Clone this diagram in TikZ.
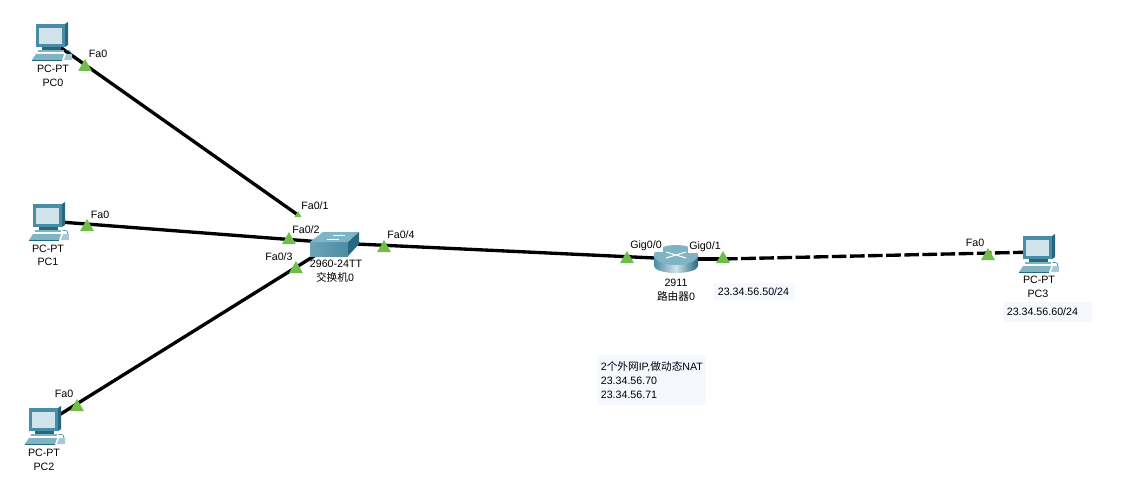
\documentclass[tikz,border=0pt]{standalone}
\usepackage{fontspec}
\setmainfont{Liberation Sans}
\newfontfamily\cjk{Noto Sans CJK SC}
\usepackage{xcolor}
\usetikzlibrary{shapes.geometric, backgrounds}
\definecolor{portgreen}{RGB}{112,190,72}
\definecolor{tealdark}{RGB}{38,104,128}
\definecolor{tealmid}{RGB}{74,140,165}
\definecolor{teallight}{RGB}{126,180,196}
\definecolor{screenblue}{RGB}{208,226,234}
\definecolor{noteblue}{RGB}{246,248,255}
\tikzset{
    pcicon/.pic={
        \fill[tealmid] (-14,-18) -- (15,-18) -- (15,5) -- (-14,5) -- cycle;
        \fill[tealdark] (15,-18) -- (18,-20) -- (18,3) -- (15,5) -- cycle;
        \fill[screenblue] (-11,-14) rectangle (12,2);
        \fill[tealdark] (-8,5) rectangle (11,8);
        \fill[teallight] (-12,8) rectangle (14,10);
        \fill[teallight] (-14,12) -- (14,12) -- (12,18) -- (-18,18) -- cycle;
        \fill[tealdark] (-18,18) rectangle (12,19);
        \fill[teallight!70] (16,12) -- (22,12) -- (22,18) -- (14,18) -- cycle;
        \draw[tealdark, line width=0.4pt] (15,8) -- (20,9) -- (21,12);
    },
    switchicon/.pic={
        \shade[left color=tealmid!80, right color=tealmid] (-25,-1) rectangle (13,13);
        \fill[teallight] (-25,-1) -- (-12,-11) -- (24,-11) -- (13,-1) -- cycle;
        \fill[tealdark] (13,-1) -- (24,-11) -- (24,1) -- (13,13) -- cycle;
        \draw[white, line width=0.6pt] (-8,-4) -- (4,-4) (-2,-8) -- (10,-8);
    },
    routericon/.pic={
        \shade[left color=tealmid, right color=tealdark, middle color=screenblue] (-22,-3) -- (-22,8) arc[start angle=180, end angle=0, x radius=22, y radius=7] -- (22,-3) -- cycle;
        \fill[teallight] (0,-3) ellipse[x radius=22, y radius=10];
        \draw[white, line width=0.8pt] (-10,-6) -- (10,0) (-10,0) -- (10,-6);
    }
}
\begin{document}
\begin{tikzpicture}[x=0.75pt, y=-0.75pt,
  device/.style={inner sep=0pt, minimum size=2pt},
  port/.style={regular polygon, regular polygon sides=3, fill=portgreen, inner sep=0pt, minimum size=12pt},
  txt/.style={font=\fontsize{8}{9}\selectfont, inner sep=0.6pt, fill=white, yshift=-0.6pt},
  note/.style={font=\fontsize{8}{9}\selectfont, fill=noteblue, inner xsep=3pt, inner ysep=2pt, align=left},
  link/.style={line width=2.5pt, black},
  broken/.style={line width=2.5pt, black, dash pattern=on 11pt off 2.6pt}]
  \useasboundingbox (0,0) rectangle (1122,485);
  \pic at (50,42) {pcicon};
  \pic at (47,222) {pcicon};
  \pic at (43,426) {pcicon};
  \pic at (1037,254) {pcicon};
  \pic at (335,243) {switchicon};
  \pic at (676,258) {routericon};
  \node[device] (pc0) at (50,40) {};
  \node[device] (pc1) at (47,221) {};
  \node[device] (pc2) at (43,425) {};
  \node[device] (pc3) at (1037,252) {};
  \node[device] (sw) at (335,243) {};
  \node[device] (rt) at (676,259) {};
  \node[port, minimum size=6pt] (p01) at (298,215) {};
  \node[port] (p02) at (289,240) {};
  \node[port] (p03) at (296,269) {};
  \node[port] (p04) at (384,248) {};
  \node[port] (pa0) at (85,67) {};
  \node[port] (pb0) at (87,227) {};
  \node[port] (pc0p) at (77,407) {};
  \node[port] (pd0) at (988,256) {};
  \node[port] (rt0) at (627,259) {};
  \node[port] (rt1) at (723,259) {};
  \node[txt] (la0) at (98,53) {Fa0};
  \node[txt] (lb0) at (100,214) {Fa0};
  \node[txt] (lc0) at (64,393) {Fa0};
  \node[txt] (ld0) at (975,242) {Fa0};
  \node[txt] (l01) at (315,205) {Fa0/1};
  \node[txt] (l02) at (306,229) {Fa0/2};
  \node[txt] (l03) at (279,256) {Fa0/3};
  \node[txt] (l04) at (401,234) {Fa0/4};
  \node[txt] (lr0) at (646,245) {Gig0/0};
  \node[txt] (lr1) at (705,246) {Gig0/1};
  \node[txt] (n0a) at (53,68) {PC-PT};
  \node[txt] (n0b) at (53,82) {PC0};
  \node[txt] (n1a) at (48,248) {PC-PT};
  \node[txt] (n1b) at (48,261) {PC1};
  \node[txt] (n2a) at (44,452) {PC-PT};
  \node[txt] (n2b) at (44,466) {PC2};
  \node[txt] (n3a) at (1039,279) {PC-PT};
  \node[txt] (n3b) at (1038,293) {PC3};
  \node[txt, fill=none] (nsa) at (336,263) {2960-24TT};
  \node[txt] (nsb) at (335,277) {{\cjk 交换机}0};
  \node[txt] (nra) at (676,282) {2911};
  \node[txt] (nrb) at (676,296) {{\cjk 路由器}0};
  \node[note, text width=55pt, minimum height=13pt] (ip1) at (754.5,291.5) {23.34.56.50/24};
  \node[note, text width=61pt, minimum height=15pt] (ip2) at (1047.5,311.5) {23.34.56.60/24};
  \node[note, minimum width=82pt, minimum height=37.5pt, text width=76pt] (nat) at (651.5,380) {2{\cjk 个外网}IP,{\cjk 做动态}NAT\\[1.6pt]23.34.56.70\\[1.6pt]23.34.56.71};
  \begin{scope}[on background layer]
    \draw[link] (pc0.center) -- (p01.center);
    \draw[link] (pc1.center) -- (sw.center);
    \draw[link] (pc2.center) -- (sw.center);
    \draw[link] (sw.center) -- (rt.center);
    \draw[link] (rt.center) -- (rt1.center);
    \draw[broken] (rt1.center) -- (pc3.center);
  \end{scope}
\end{tikzpicture}
\end{document}
